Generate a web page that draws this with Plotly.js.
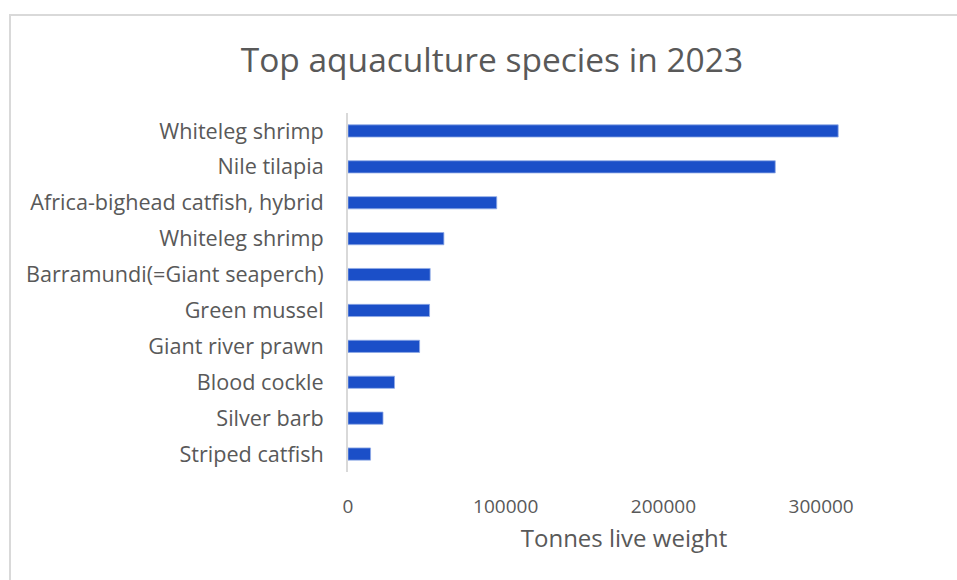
<!DOCTYPE html>
<html>
<head>
<meta charset="utf-8">
<script src="https://cdn.plot.ly/plotly-3.0.1.min.js"></script>
<style>
  html, body { margin: 0; padding: 0; background: #ffffff; }
  #wrap { position: relative; width: 957px; height: 580px; }
  #chart { position: absolute; left: 0; top: 0; width: 957px; height: 580px; }
  #frame { position: absolute; left: 9px; top: 14px; right: 0; bottom: 0;
           border-top: 2px solid #d9d9d9; border-left: 2px solid #d9d9d9; pointer-events: none; }
</style>
</head>
<body>
<div id="wrap">
  <div id="chart"></div>
  <div id="frame"></div>
</div>
<script>
// Data (top to bottom as shown)
const species = [
  "Whiteleg shrimp",
  "Nile tilapia",
  "Africa-bighead catfish, hybrid",
  "Whiteleg shrimp",
  "Barramundi(=Giant seaperch)",
  "Green mussel",
  "Giant river prawn",
  "Blood cockle",
  "Silver barb",
  "Striped catfish"
];
const tonnes = [310800, 270900, 94300, 60800, 52100, 51700, 45400, 29500, 22200, 14300];
const xTickVals = [0, 100000, 200000, 300000];
const xTickText = ["0", "100000", "200000", "300000"];

// unique keys for duplicated names
const seen = {};
const keys = species.map(function (s) {
  seen[s] = (seen[s] || 0) + 1;
  return s + "\u200b".repeat(seen[s] - 1);
});

const font = "Open Sans, sans-serif";
const textColor = "#595959";

const trace = {
  type: "bar",
  orientation: "h",
  x: tonnes,
  y: keys,
  marker: { color: "#1b4fc8", line: { color: "#8fa9e6", width: 0.8 } },
  hoverinfo: "x+y"
};

const layout = {
  width: 957,
  height: 580,
  paper_bgcolor: "#ffffff",
  plot_bgcolor: "#ffffff",
  margin: { l: 348, r: 57, t: 113, b: 108 },
  bargap: 0.66,
  showlegend: false,
  font: { family: font, color: textColor },
  title: {
    text: "Top aquaculture species in 2023",
    font: { family: font, size: 33.5, color: textColor },
    xref: "container", x: 0.514, xanchor: "center",
    yref: "container", y: 1 - 60 / 580, yanchor: "middle"
  },
  xaxis: {
    range: [0, 350000],
    tickvals: xTickVals,
    ticktext: xTickText,
    showgrid: false,
    zeroline: false,
    showline: false,
    ticks: "",
    ticklabelstandoff: 21,
    tickfont: { family: font, size: 19, color: textColor },
    title: {
      text: "Tonnes live weight",
      font: { family: font, size: 24, color: textColor },
      standoff: 12
    },
    fixedrange: true
  },
  yaxis: {
    type: "category",
    categoryorder: "array",
    categoryarray: keys.slice().reverse(),
    autorange: false,
    range: [-0.5, keys.length - 0.5],
    showgrid: false,
    zeroline: false,
    showline: true,
    linecolor: "#d9d9d9",
    linewidth: 2,
    ticks: "",
    ticklabelstandoff: 18,
    tickfont: { family: font, size: 21.6, color: textColor },
    fixedrange: true
  }
};

Plotly.newPlot("chart", [trace], layout, { displayModeBar: false, staticPlot: true });
</script>
</body>
</html>
